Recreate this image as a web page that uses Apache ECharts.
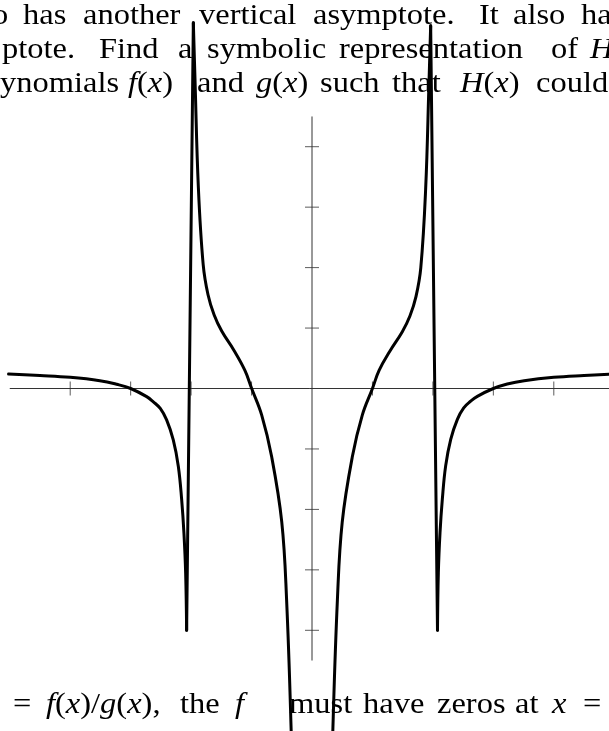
<!DOCTYPE html>
<html>
<head>
<meta charset="utf-8">
<script src="https://cdn.jsdelivr.net/npm/echarts@6/dist/echarts.min.js"></script>
<style>
html,body{margin:0;padding:0;background:#fff;}
#chart{width:609px;height:731px;}
</style>
</head>
<body>
<div id="chart"></div>
<script>
// ---------- data ----------
// left outer branch (x < -2)
const leftOuter = [[-5.02,0.24],[-4.5,0.215],[-4.0,0.185],[-3.51,0.13],[-3.23,0.07],[-3.0,0.0],
  [-2.735,-0.135],[-2.625,-0.22],[-2.51,-0.33],[-2.405,-0.52],[-2.295,-0.85],[-2.211,-1.29],
  [-2.156,-1.84],[-2.118,-2.40],[-2.09,-3.06],[-2.074,-4.0]];
// left inner branch (-2 < x < 0)
const leftInner = [[-1.963,6.05],[-1.935,5.1],[-1.88,3.33],[-1.80,2.05],[-1.72,1.55],[-1.62,1.22],
  [-1.494,0.95],[-1.29,0.63],[-1.11,0.3],[-0.998,0.0],[-0.832,-0.44],[-0.667,-1.13],[-0.50,-2.21],
  [-0.42,-3.5],[-0.345,-5.65],[-0.30,-7.5]];
// right inner branch (0 < x < 2)
const rightInner = [[0.30,-7.5],[0.345,-5.65],[0.42,-3.5],[0.50,-2.21],[0.667,-1.13],[0.832,-0.44],
  [1.0,0.0],[1.11,0.3],[1.29,0.62],[1.494,0.94],[1.62,1.2],[1.72,1.52],[1.80,2.0],[1.88,3.3],
  [1.935,5.05],[1.963,6.0]];
// right outer branch (x > 2)
const rightOuter = [[2.076,-4.0],[2.09,-3.05],[2.118,-2.38],[2.156,-1.83],[2.211,-1.28],[2.295,-0.84],
  [2.405,-0.51],[2.51,-0.32],[2.625,-0.21],[2.735,-0.13],[3.0,0.0],[3.23,0.075],[3.51,0.13],
  [4.0,0.185],[4.5,0.215],[5.02,0.24]];
const xTicks = [-4,-3,-2,-1,1,2,3,4];
const yTicks = [-4,-3,-2,-1,1,2,3,4];
const xAxisSpan = [-5,5];
const yAxisSpan = [-4.5,4.5];

// ---------- surrounding text (layout) ----------
const FS = 29, SX = 1.12, FF = '"Liberation Serif", "Times New Roman", serif';
const textRows = [
  {base:26, words:[[-8,'o'],[23,'has'],[83,'another'],[199,'vertical'],[313,'asymptote.'],[479,'It'],[513,'also'],[581,'ha']]},
  {base:60, words:[[2,'ptote.'],[99,'Find'],[178,'a'],[207,'symbolic'],[339,'representation'],[551,'of'],[590,'{i|H}']]},
  {base:94, words:[[0,'ynomials'],[128,'{i|f}({i|x})'],[197,'and'],[256,'{i|g}({i|x})'],[320,'such'],[392,'that'],[460,'{i|H}({i|x})'],[536,'could']]},
  {base:715, words:[[13,'='],[46,'{i|f}({i|x})/{i|g}({i|x}),'],[180,'the'],[235,'{i|f}'],[289,'must'],[363,'have'],[437,'zeros'],[515,'at'],[552,'{i|x}'],[583,'=']]}
];

const graphic = [];
textRows.forEach(r => {
  r.words.forEach(w => {
    graphic.push({
      type:'text', x:w[0], y:r.base - 9.3, scaleX:SX, z:0, silent:true,
      style:{
        text:w[1], fill:'#000', fontSize:FS, fontFamily:FF,
        verticalAlign:'middle', align:'left',
        rich:{i:{fontStyle:'italic', fontSize:FS, fontFamily:FF, fill:'#000'}}
      }
    });
  });
});

// ---------- scales ----------
const ORIGIN_X = 312, ORIGIN_Y = 388.5, UNIT = 60.45, W = 609, H = 731;
const xMin = -ORIGIN_X/UNIT, xMax = (W-ORIGIN_X)/UNIT;
const yMax = ORIGIN_Y/UNIT, yMin = -(H-ORIGIN_Y)/UNIT;

const axisColor = '#333';
const curveStyle = {color:'#000', width:3, join:'round', cap:'round'};
function curve(data, smooth){
  return {type:'line', data:data, showSymbol:false, symbol:'none', smooth:smooth,
    lineStyle:curveStyle, z:5, silent:true, clip:true};
}

const chart = echarts.init(document.getElementById('chart'), null, {renderer:'canvas'});
chart.setOption({
  animation:false,
  backgroundColor:'#fff',
  graphic:graphic,
  grid:{left:0, right:0, top:0, bottom:0, containLabel:false},
  xAxis:{type:'value', min:xMin, max:xMax, show:false},
  yAxis:{type:'value', min:yMin, max:yMax, show:false},
  series:[
    {type:'line', data:[[xAxisSpan[0],0],[xAxisSpan[1],0]], symbol:'none', lineStyle:{color:axisColor,width:1}, z:3, silent:true},
    {type:'line', data:[[0,yAxisSpan[0]],[0,yAxisSpan[1]]], symbol:'none', lineStyle:{color:axisColor,width:1}, z:3, silent:true},
    {type:'scatter', data:xTicks.map(t=>[t,0]), symbol:'rect', symbolSize:[1,14], itemStyle:{color:axisColor}, z:3, silent:true},
    {type:'scatter', data:yTicks.map(t=>[0,t]), symbol:'rect', symbolSize:[14,1], itemStyle:{color:axisColor}, z:3, silent:true},
    curve(leftOuter, 0.4),
    curve([leftOuter[leftOuter.length-1], leftInner[0]], false),
    curve(leftInner, 0.4),
    curve(rightInner, 0.4),
    curve([rightInner[rightInner.length-1], rightOuter[0]], false),
    curve(rightOuter, 0.4)
  ]
});
</script>
</body>
</html>
